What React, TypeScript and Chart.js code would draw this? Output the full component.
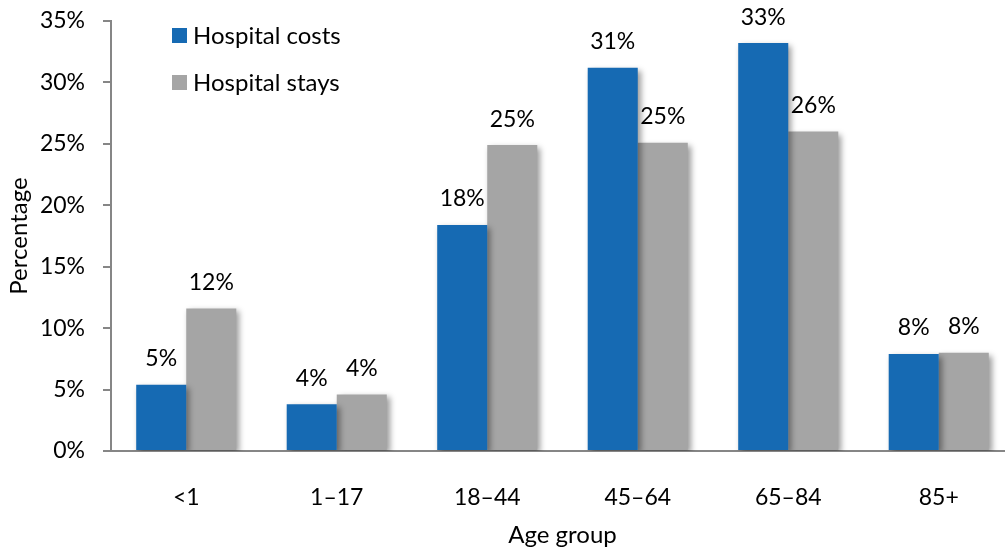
import React, { useEffect, useRef } from "react";
import { Chart, registerables } from "chart.js";

Chart.register(...registerables);

const categories = ["<1", "1–17", "18–44", "45–64", "65–84", "85+"];
const hospitalCosts = [5.4, 3.8, 18.4, 31.2, 33.2, 7.9];
const hospitalStays = [11.6, 4.6, 24.9, 25.1, 26.0, 8.0];
const costLabels = ["5%", "4%", "18%", "31%", "33%", "8%"];
const stayLabels = ["12%", "4%", "25%", "25%", "26%", "8%"];
const seriesNames = ["Hospital costs", "Hospital stays"];
const seriesColors = ["#166ab3", "#a5a5a5"];

const FONT = "Lato";

export default function App() {
  const ref = useRef<HTMLCanvasElement | null>(null);

  useEffect(() => {
    const canvas = ref.current;
    if (!canvas) return;
    const labelSets = [costLabels, stayLabels];

    const decor = {
      id: "decor",
      beforeDatasetsDraw(chart: any) {
        const ctx = chart.ctx;
        ctx.save();
        ctx.shadowColor = "rgba(0,0,0,0.4)";
        ctx.shadowBlur = 6;
        ctx.shadowOffsetX = 3;
        ctx.shadowOffsetY = 3;
      },
      afterDatasetsDraw(chart: any) {
        const ctx = chart.ctx;
        ctx.restore();
        ctx.save();
        ctx.fillStyle = "#000";
        ctx.font = `23px ${FONT}`;
        ctx.textAlign = "center";
        ctx.textBaseline = "middle";
        chart.data.datasets.forEach((_ds: any, di: number) => {
          const meta = chart.getDatasetMeta(di);
          meta.data.forEach((el: any, i: number) => {
            ctx.fillText(labelSets[di][i], el.x, el.y - 26);
          });
        });
        // legend
        ctx.font = `24px ${FONT}`;
        ctx.textAlign = "left";
        const lx = 172;
        const ly = [28, 75];
        seriesNames.forEach((name, i) => {
          ctx.fillStyle = seriesColors[i];
          ctx.fillRect(lx, ly[i], 15, 15);
          ctx.fillStyle = "#000";
          ctx.fillText(name, lx + 21, ly[i] + 8);
        });
        ctx.restore();
      },
    };

    const chart = new Chart(canvas, {
      type: "bar",
      data: {
        labels: categories,
        datasets: [
          {
            label: seriesNames[0],
            data: hospitalCosts,
            backgroundColor: seriesColors[0],
            barPercentage: 1,
            categoryPercentage: 0.665,
          },
          {
            label: seriesNames[1],
            data: hospitalStays,
            backgroundColor: seriesColors[1],
            barPercentage: 1,
            categoryPercentage: 0.665,
          },
        ],
      },
      plugins: [decor],
      options: {
        responsive: false,
        animation: false,
        devicePixelRatio: 1,
        layout: { padding: { top: 21, right: 6, left: 0, bottom: 0 } },
        plugins: {
          legend: { display: false },
          tooltip: { enabled: false },
        },
        scales: {
          x: {
            grid: { display: false, drawTicks: false },
            border: { display: true, color: "#868686", width: 2 },
            ticks: {
              color: "#000",
              font: { family: FONT, size: 23 },
              padding: 33,
              maxRotation: 0,
            },
            title: {
              display: true,
              text: "Age group",
              color: "#000",
              font: { family: FONT, size: 24 },
              padding: { top: 0, bottom: 2 },
            },
            afterFit(scale: any) {
              scale.height = 101;
              scale.paddingLeft = 0;
              scale.paddingRight = 0;
            },
          },
          y: {
            min: 0,
            max: 35,
            grid: {
              display: true,
              drawOnChartArea: false,
              drawTicks: true,
              tickLength: 8,
              tickColor: "#868686",
              lineWidth: 2,
            },
            border: { display: true, color: "#868686", width: 2 },
            ticks: {
              stepSize: 5,
              color: "#000",
              font: { family: FONT, size: 23 },
              padding: 18,
              callback: (v: any) => `${v}%`,
            },
            title: {
              display: true,
              text: "Percentage",
              color: "#000",
              font: { family: FONT, size: 24 },
              padding: { top: 5, bottom: 0 },
            },
            afterFit(scale: any) {
              scale.width = 111;
              scale.paddingTop = 0;
              scale.paddingBottom = 0;
            },
          },
        },
      },
    });

    return () => chart.destroy();
  }, []);

  return (
    <div style={{ width: 1005, height: 552, overflow: "hidden", position: "relative" }}>
      <style>{`body{margin:0;overflow:hidden;}`}</style>
      <canvas ref={ref} width={1020} height={552} style={{ display: "block" }} />
    </div>
  );
}
